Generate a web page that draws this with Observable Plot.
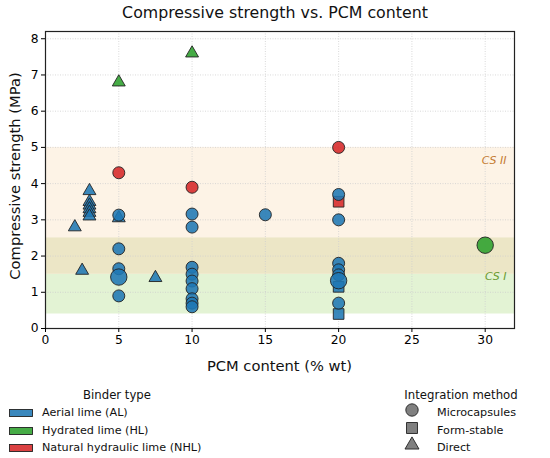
<!DOCTYPE html>
<html><head><meta charset="utf-8">
<script src="https://cdn.jsdelivr.net/npm/d3@7"></script>
<script src="https://cdn.jsdelivr.net/npm/@observablehq/plot@0.6"></script>
<style>
body{margin:0;background:#fff;font-family:"DejaVu Sans",sans-serif;color:#111}
#wrap{position:relative;width:550px;height:458px;overflow:hidden;background:#fff}
#chart{position:absolute;left:0;top:0}
.c{position:absolute;transform:translate(-50%,-50%);white-space:nowrap}
.l{position:absolute;transform:translate(0,-50%);white-space:nowrap;font-size:11.2px}
.sw{position:absolute;transform:translate(0,-50%)}
</style></head>
<body><div id="wrap"></div>
<script>
// ---- data ----
const binderCodes = ["AL", "HL", "NHL"];
const binderNames = ["Aerial lime (AL)", "Hydrated lime (HL)", "Natural hydraulic lime (NHL)"];
const methods = ["Microcapsules", "Form-stable", "Direct"];
const pcm =      [2, 2.5, 3, 3, 3, 3, 3, 3, 5, 7.5, 5, 10,
                  5, 5, 5, 5, 5, 10, 10, 10, 10, 10, 10, 10, 10, 10, 15, 20, 20, 20, 20, 20, 20, 20,
                  30, 5, 10, 20,
                  20, 20, 20];
const strength = [2.8, 1.6, 3.8, 3.5, 3.4, 3.3, 3.2, 3.1, 3.05, 1.4, 6.8, 7.6,
                  3.13, 2.2, 1.65, 0.9, 1.42, 3.16, 2.8, 1.69, 1.5, 1.31, 1.1, 0.82, 0.7, 0.6, 3.14, 3.7, 3.0, 1.8, 1.62, 1.48, 1.32, 0.7,
                  2.3, 4.3, 3.9, 5.0,
                  1.15, 0.4, 3.5];
const binder =   ["AL","AL","AL","AL","AL","AL","AL","AL","AL","AL","HL","HL",
                  "AL","AL","AL","AL","AL","AL","AL","AL","AL","AL","AL","AL","AL","AL","AL","AL","AL","AL","AL","AL","AL","AL",
                  "HL","NHL","NHL","NHL",
                  "AL","AL","NHL"];
const method =   ["Direct","Direct","Direct","Direct","Direct","Direct","Direct","Direct","Direct","Direct","Direct","Direct",
                  "Microcapsules","Microcapsules","Microcapsules","Microcapsules","Microcapsules","Microcapsules","Microcapsules","Microcapsules","Microcapsules","Microcapsules","Microcapsules","Microcapsules","Microcapsules","Microcapsules","Microcapsules","Microcapsules","Microcapsules","Microcapsules","Microcapsules","Microcapsules","Microcapsules","Microcapsules",
                  "Microcapsules","Microcapsules","Microcapsules","Microcapsules",
                  "Form-stable","Form-stable","Form-stable"];
const specimens = [1,1,1,1,1,1,1,1,1,1,1,1,
                  1,1,1,1,2,1,1,1,1,1,1,1,1,1,1,1,1,1,1,1,2,1,
                  2,1,1,1,
                  1,1,1];
const bandNames = ["CS I", "CS II"];
const bandLow = [0.4, 1.5];
const bandHigh = [2.5, 5.0];
const bandLabelY = [1.45, 4.65];
const xTicks = [0, 5, 10, 15, 20, 25, 30];
const yTicks = [0, 1, 2, 3, 4, 5, 6, 7, 8];

// ---- build ----
const pts = pcm.map((x, i) => ({x, y: strength[i], binder: binder[i], method: method[i], n: specimens[i]}));
const bands = bandNames.map((name, i) => ({name, lo: bandLow[i], hi: bandHigh[i], ly: bandLabelY[i]}));
const overlap = [{lo: d3.max(bandLow), hi: d3.min(bandHigh)}];

const colorRange = ["#1f77b4", "#2ca02c", "#d62728"];
const bandFill = {"CS I": "#e3f3d4", "CS II": "#fdf3e6"};
const bandText = {"CS I": "#6a9a30", "CS II": "#c47a30"};
const symbolOf = {"Microcapsules": "circle", "Form-stable": "square", "Direct": "triangle"};
const dotStyle = {x: "x", y: "y", fill: "binder", fillOpacity: 0.88, stroke: "#222", strokeWidth: 0.9};

const chart = Plot.plot({
  width: 550, height: 385,
  marginTop: 31, marginBottom: 57, marginLeft: 45, marginRight: 36,
  style: {fontFamily: "DejaVu Sans", background: "transparent", color: "#000"},
  x: {domain: [0, 32]},
  y: {domain: [0, 8.2]},
  color: {domain: binderCodes, range: colorRange},
  marks: [
    Plot.rect(bands, {y1: "lo", y2: "hi", fill: d => bandFill[d.name]}),
    Plot.rect(overlap, {y1: "lo", y2: "hi", fill: "#ece6c6"}),
    Plot.gridX(xTicks, {stroke: "#cfcfcf", strokeOpacity: 1, strokeDasharray: "1,1.5", strokeWidth: 0.8}),
    Plot.gridY(yTicks, {stroke: "#cfcfcf", strokeOpacity: 1, strokeDasharray: "1,1.5", strokeWidth: 0.8}),
    Plot.text(bands, {y: "ly", text: "name", frameAnchor: "right", dx: -8, textAnchor: "end",
      fill: d => bandText[d.name], fontStyle: "italic", fontSize: 11}),
    Plot.dot(pts.filter(d => d.method === "Form-stable"), {...dotStyle, symbol: "square", r: 6}),
    Plot.dot(pts.filter(d => d.method === "Direct"), {...dotStyle, symbol: "triangle", r: 4.8}),
    Plot.dot(pts.filter(d => d.method === "Microcapsules" && d.n === 1), {...dotStyle, symbol: "circle", r: 6}),
    Plot.dot(pts.filter(d => d.method === "Microcapsules" && d.n > 1), {...dotStyle, symbol: "circle", r: 8.2}),
    Plot.frame({stroke: "#222", strokeWidth: 1.2}),
    Plot.axisX({ticks: xTicks, tickSize: 4, tickPadding: 3, fontSize: 12.3, label: null}),
    Plot.axisY({ticks: yTicks, tickSize: 4, tickPadding: 3, fontSize: 12.3, label: null})
  ]
});
const wrap = document.getElementById("wrap");
chart.id = "chart";
wrap.appendChild(chart);

function add(cls, html, left, top, extra) {
  const d = document.createElement("div");
  d.className = cls; d.innerHTML = html;
  d.style.left = left + "px"; d.style.top = top + "px";
  if (extra) Object.assign(d.style, extra);
  wrap.appendChild(d);
  return d;
}
add("c", "Compressive strength vs. PCM content", 275, 12, {fontSize: "15.8px"});
add("c", "PCM content (% wt)", 279.5, 365, {fontSize: "14.7px"});
add("c", "Compressive strength (MPa)", 14, 176, {fontSize: "14.7px", transform: "translate(-50%,-50%) rotate(-90deg)"});

// legends
const rows = [412, 430, 447];
add("c", "Binder type", 117, 395, {fontSize: "11.7px"});
binderNames.forEach((name, i) => {
  add("sw", `<svg width="25" height="9"><rect x="0.5" y="1" width="23" height="7" fill="${colorRange[i]}" fill-opacity="0.88" stroke="#222" stroke-width="0.9"/></svg>`, 9, rows[i]);
  add("l", name, 42, rows[i]);
});
add("c", "Integration method", 461, 395, {fontSize: "11.7px"});
const legSym = {"circle": d3.symbolCircle, "square": d3.symbolSquare, "triangle": d3.symbolTriangle};
methods.forEach((m, i) => {
  const s = symbolOf[m];
  const size = s === "triangle" ? Math.PI * 5.2 * 5.2 : Math.PI * 6.2 * 6.2;
  const p = d3.symbol(legSym[s], size)();
  add("sw", `<svg width="18" height="18"><path transform="translate(9,9)" d="${p}" fill="#808080" stroke="#222" stroke-width="0.9"/></svg>`, 403, rows[i]);
  add("l", m, 437, rows[i]);
});
</script></body></html>
